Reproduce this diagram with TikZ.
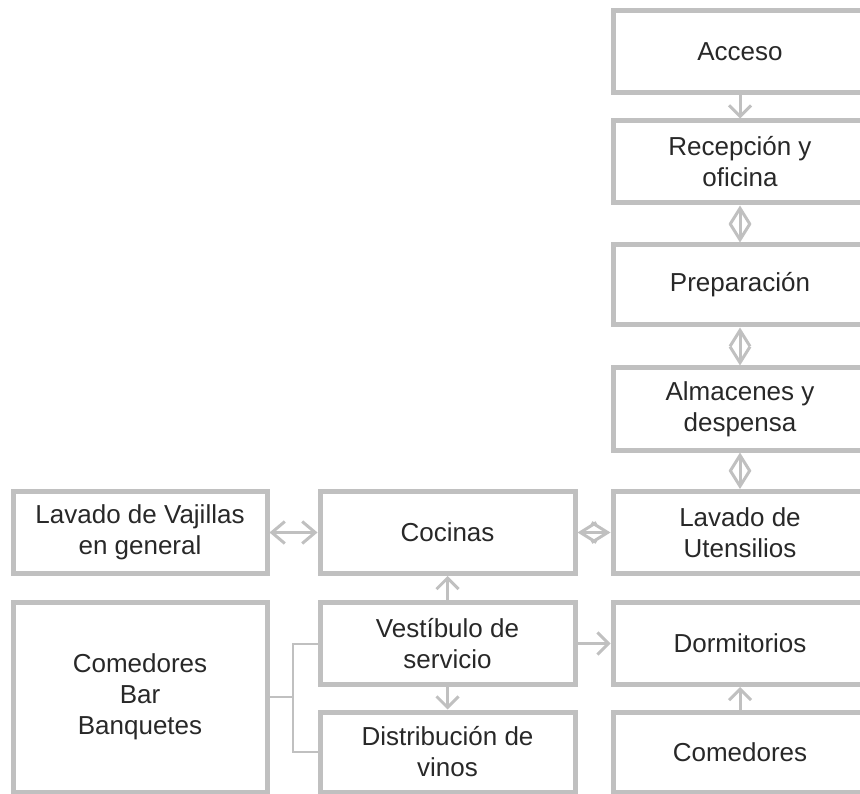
\documentclass[tikz,border=0pt]{standalone}
\usepackage{fontspec}
\setmainfont{Liberation Sans}
\usetikzlibrary{arrows.meta}
\definecolor{boxgray}{RGB}{192,192,192}
\definecolor{txt}{RGB}{40,40,40}
\begin{document}
\begin{tikzpicture}[x=1pt,y=-1pt,
  box/.style={draw=boxgray, line width=5pt, rectangle, minimum width=254pt,
    minimum height=82pt, inner sep=0pt, align=center, text=txt,
    font=\fontsize{26}{31}\selectfont},
  conn/.style={draw=boxgray, line width=3pt, -{Straight Barb[length=11pt,width=22pt]}},
  both/.style={draw=boxgray, line width=3pt,
    {Straight Barb[length=16pt,width=20pt]}-{Straight Barb[length=16pt,width=20pt]}},
  bothlong/.style={draw=boxgray, line width=3pt,
    {Straight Barb[length=13pt,width=22pt]}-{Straight Barb[length=13pt,width=22pt]}},
  link/.style={draw=boxgray, line width=2pt}]
\useasboundingbox (0,0) rectangle (860,794);
\clip (0,0) rectangle (860,794);
% right column
\node[box] (acc) at (740,51.5) {Acceso};
\node[box] (rec) at (740,162) {Recepción y\\oficina};
\node[box, minimum height=80pt] (pre) at (740,285) {Preparación};
\node[box] (alm) at (740,409) {Almacenes y\\despensa};
\node[box] (lut) at (740,532.5) {Lavado de\\Utensilios};
\node[box] (dor) at (740,643.5) {Dormitorios};
\node[box, minimum height=80pt] (com) at (740,752) {Comedores};
% middle column
\node[box, minimum width=255pt] (coc) at (447.5,532.5) {Cocinas};
\node[box, minimum width=255pt] (ves) at (447.5,643.5) {Vestíbulo de\\servicio};
\node[box, minimum width=255pt, minimum height=80pt] (dis) at (447.5,752) {Distribución de\\vinos};
% left column
\node[box] (lva) at (140,532.5) {Lavado de Vajillas\\en general};
\node[box, minimum height=190pt] (cbb) at (140,697) {Comedores\\Bar\\Banquetes};
% connectors
\draw[conn] (acc) -- (rec);
\draw[both] (rec) -- (pre);
\draw[both] (pre) -- (alm);
\draw[both] (alm) -- (lut);
\draw[both] (coc) -- (lut);
\draw[bothlong] (lva) -- (coc);
\draw[conn] (ves) -- (coc);
\draw[conn] (ves) -- (dis);
\draw[conn] (ves) -- (dor);
\draw[conn] (com) -- (dor);
\coordinate (j) at (293,697);
\draw[link] (cbb.east) -- (j);
\draw[link] (ves.west) -| (j) |- (dis.west);
\end{tikzpicture}
\end{document}
